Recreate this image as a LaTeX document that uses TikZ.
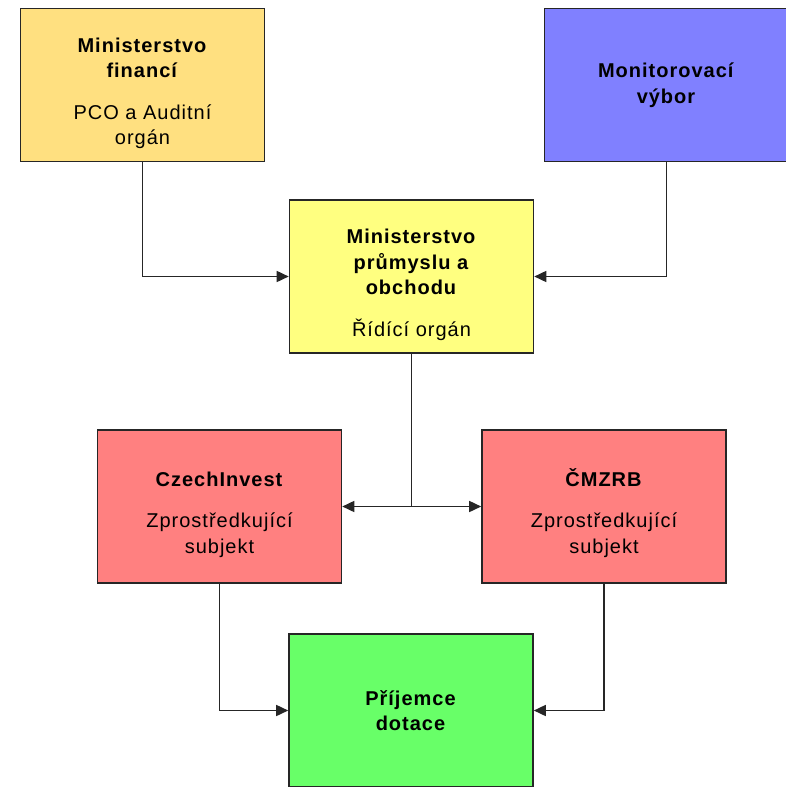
\documentclass[tikz,border=0pt]{standalone}
\usepackage{fontspec}
\setmainfont{Liberation Sans}[LetterSpace=5]
\usetikzlibrary{arrows.meta,calc}

\definecolor{mfcol}{RGB}{255,224,128}
\definecolor{mvcol}{RGB}{128,128,255}
\definecolor{mpocol}{RGB}{255,255,128}
\definecolor{zscol}{RGB}{255,128,128}
\definecolor{pdcol}{RGB}{104,255,104}
\newcommand{\topgap}{\rule{0pt}{31pt}}

\begin{document}
\begin{tikzpicture}[x=1pt, y=-1pt, >={Triangle[length=12pt,width=11pt]},
  font={\fontsize{20}{25.5}\selectfont},
  orgbox/.style={draw=black!85, line width=1.6pt, align=center,
    minimum width=244pt, minimum height=153pt, inner sep=0pt},
  link/.style={draw=black!85, line width=1.6pt}]
  \clip (0,0) rectangle (786,787);
  \fill[white] (0,0) rectangle (786,787);

  \node[orgbox, fill=mfcol] (MF) at (142.5,85)
    {\topgap\textbf{Ministerstvo}\\\textbf{financí}\\[16pt]PCO a Auditní\\orgán};
  \node[orgbox, fill=mvcol] (MV) at (666.5,85)
    {\textbf{Monitorovací}\\\textbf{výbor}};
  \node[orgbox, fill=mpocol] (MPO) at (411.5,276.5)
    {\topgap\textbf{Ministerstvo}\\\textbf{průmyslu a}\\\textbf{obchodu}\\[16pt]Řídící orgán};
  \node[orgbox, fill=zscol] (CI) at (219.5,506.5)
    {\topgap\textbf{CzechInvest}\\[16pt]Zprostředkující\\subjekt};
  \node[orgbox, fill=zscol] (CMZRB) at (604,506.5)
    {\topgap\textbf{ČMZRB}\\[16pt]Zprostředkující\\subjekt};
  \node[orgbox, fill=pdcol] (PD) at (411,710.5)
    {\textbf{Příjemce}\\\textbf{dotace}};

  \draw[link,->] (MF.south) |- (MPO.west);
  \draw[link,->] (MV.south) |- (MPO.east);
  \draw[link] (MPO.south) -- (MPO.south |- CI.east);
  \draw[link,<->] (CI.east) -- (CMZRB.west);
  \draw[link,->] (CI.south) |- (PD.west);
  \draw[link,->] (CMZRB.south) |- (PD.east);
\end{tikzpicture}
\end{document}
